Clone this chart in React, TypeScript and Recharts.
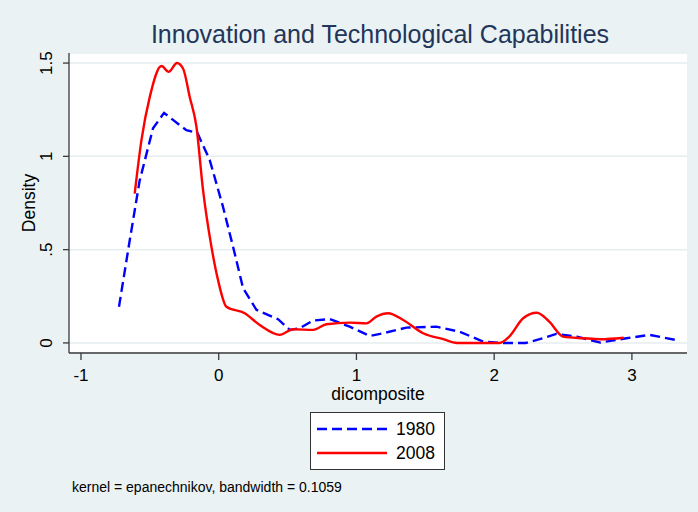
import React from 'react';
import { LineChart, Line, XAxis, YAxis, CartesianGrid, Legend } from 'recharts';

// 1980 kernel density (dashed blue)
const blueX = [-0.724, -0.646, -0.574, -0.477, -0.397, -0.235, -0.155, -0.065, 0.031, 0.104, 0.177, 0.274, 0.431, 0.516, 0.588, 0.685, 0.806, 0.951, 1.097, 1.193, 1.363, 1.581, 1.75, 1.92, 2.04, 2.23, 2.33, 2.45, 2.6, 2.77, 2.96, 3.13, 3.32];
const blueY = [0.194, 0.55, 0.87, 1.15, 1.233, 1.14, 1.126, 0.98, 0.73, 0.516, 0.293, 0.177, 0.127, 0.07, 0.079, 0.12, 0.128, 0.087, 0.037, 0.052, 0.082, 0.087, 0.06, 0.007, 0, 0, 0.02, 0.048, 0.034, 0.002, 0.025, 0.043, 0.016];

// 2008 kernel density (solid red)
const redX = [-0.61, -0.561, -0.5, -0.416, -0.363, -0.303, -0.259, -0.211, -0.162, -0.114, -0.053, -0.005, 0.056, 0.189, 0.298, 0.443, 0.54, 0.685, 0.782, 0.951, 1.073, 1.145, 1.23, 1.339, 1.484, 1.63, 1.73, 2.04, 2.11, 2.21, 2.31, 2.4, 2.5, 2.65, 2.77, 2.94];
const redY = [0.8, 1.087, 1.32, 1.484, 1.453, 1.5, 1.471, 1.32, 1.16, 0.82, 0.516, 0.337, 0.194, 0.159, 0.096, 0.043, 0.073, 0.07, 0.1, 0.109, 0.105, 0.141, 0.159, 0.123, 0.052, 0.02, 0, 0, 0.034, 0.132, 0.162, 0.114, 0.034, 0.025, 0.02, 0.028];

const xTicks = [-1, 0, 1, 2, 3];
const yTicks = [0, 0.5, 1, 1.5];
const yTickLabels = ['0', '.5', '1', '1.5'];
const seriesNames = ['1980', '2008'];
const titleText = 'Innovation and Technological Capabilities';
const xTitle = 'dicomposite';
const yTitle = 'Density';
const noteText = 'kernel = epanechnikov, bandwidth = 0.1059';

const data1980 = blueX.map((x, i) => ({ x, y: blueY[i] }));
const data2008 = redX.map((x, i) => ({ x, y: redY[i] }));

const FONT = '"Liberation Sans", Arial, Helvetica, sans-serif';
const BG = '#eaf2f3';
const AXIS = '#3a3a3a';
const DASHES: Record<string, string | undefined> = { '1980': '10 5', '2008': undefined };

function YTick(props: any) {
  const { x, y, payload } = props;
  const cx = x - 14;
  const idx = yTicks.indexOf(payload.value);
  const label = idx >= 0 ? yTickLabels[idx] : String(payload.value);
  return (
    <text x={cx} y={y} transform={`rotate(-90 ${cx} ${y})`} textAnchor="middle"
      dominantBaseline="central" fontSize={17} fontFamily={FONT} fill="#000">{label}</text>
  );
}

function YTitle(props: any) {
  const vb = props.viewBox || { x: 29, y: 53, width: 40, height: 300 };
  const cx = 28.5;
  const cy = vb.y + vb.height / 2;
  return (
    <text x={cx} y={cy} transform={`rotate(-90 ${cx} ${cy})`} textAnchor="middle"
      dominantBaseline="central" fontSize={17.5} fontFamily={FONT} fill="#000">{yTitle}</text>
  );
}

function XTitle(props: any) {
  const vb = props.viewBox || { x: 69, y: 353, width: 618, height: 60 };
  return (
    <text x={vb.x + vb.width / 2} y={399.5} textAnchor="middle" fontSize={17.5}
      fontFamily={FONT} fill="#000">{xTitle}</text>
  );
}

function LegendBox(props: any) {
  const payload = props.payload || [];
  return (
    <div style={{ width: 135, height: 58, boxSizing: 'border-box', border: '1px solid #333',
      background: '#fff', position: 'relative', fontFamily: FONT }}>
      {payload.map((e: any, i: number) => (
        <div key={String(e.value)} style={{ position: 'absolute', left: 0, top: 4 + i * 24, height: 24,
          display: 'flex', alignItems: 'center' }}>
          <svg width={80} height={24} style={{ display: 'block' }}>
            <line x1={6} x2={76} y1={12} y2={12} stroke={e.color} strokeWidth={2.4}
              strokeDasharray={DASHES[String(e.value)]} />
          </svg>
          <span style={{ fontSize: 17.5, marginLeft: 5, color: '#000', lineHeight: '24px' }}>{e.value}</span>
        </div>
      ))}
    </div>
  );
}

export default function App() {
  return (
    <div style={{ position: 'relative', width: 698, height: 512, background: BG, fontFamily: FONT, overflow: 'hidden' }}>
      <style>{'body{margin:0}'}</style>
      <div style={{ position: 'absolute', left: 71, width: 618, top: 22, fontSize: 25, lineHeight: '25px',
        textAlign: 'center', color: '#22355a', whiteSpace: 'nowrap' }}>{titleText}</div>
      <LineChart width={698} height={512} data={data1980}
        margin={{ top: 53, right: 11, bottom: 99, left: 29 }}>
        <CartesianGrid vertical={false} horizontal={true} stroke="#e6eef0" strokeWidth={1.5} fill="#ffffff" />
        <XAxis type="number" dataKey="x" domain={[-1.087, 3.4]} ticks={xTicks} allowDataOverflow
          height={60} tickSize={7} tickMargin={9} interval={0}
          axisLine={{ stroke: AXIS, strokeWidth: 1.3 }} tickLine={{ stroke: AXIS, strokeWidth: 1.3 }}
          tick={{ fontSize: 17, fontFamily: FONT, fill: '#000' }}
          label={{ content: (p: any) => <XTitle {...p} /> }} />
        <YAxis type="number" domain={[-0.054, 1.554]} ticks={yTicks} allowDataOverflow width={40}
          tickSize={6} tickMargin={2} interval={0}
          axisLine={{ stroke: AXIS, strokeWidth: 1.3 }} tickLine={{ stroke: AXIS, strokeWidth: 1.3 }}
          tick={(p: any) => <YTick {...p} />}
          label={{ content: (p: any) => <YTitle {...p} /> }} />
        <Line data={data1980} dataKey="y" name={seriesNames[0]} type="linear" stroke="#0000ff"
          strokeWidth={2.4} strokeDasharray="10 5" dot={false} activeDot={false} isAnimationActive={false} />
        <Line data={data2008} dataKey="y" name={seriesNames[1]} type="monotone" stroke="#ff0000"
          strokeWidth={2.4} dot={false} activeDot={false} isAnimationActive={false} />
        <Legend layout="vertical" align="center" verticalAlign="middle"
          wrapperStyle={{ left: 310, top: 412, width: 135, height: 58 }}
          content={(p: any) => <LegendBox {...p} />} />
      </LineChart>
      <div style={{ position: 'absolute', left: 72, top: 480, fontSize: 14, lineHeight: '14px',
        color: '#000', whiteSpace: 'nowrap' }}>{noteText}</div>
    </div>
  );
}
